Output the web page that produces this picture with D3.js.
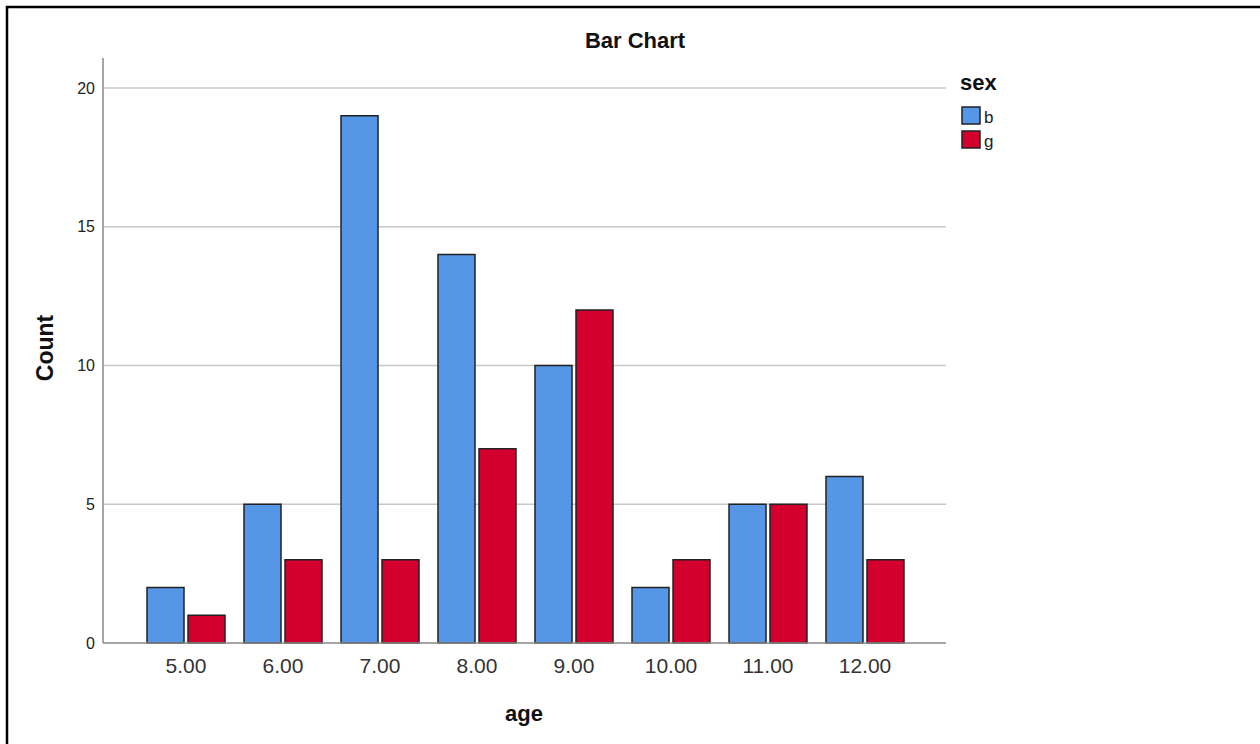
<!DOCTYPE html>
<html>
<head>
<meta charset="utf-8">
<script src="https://cdn.jsdelivr.net/npm/d3@7"></script>
<style>
  html, body { margin: 0; padding: 0; background: #fff; overflow: hidden; }
  svg { display: block; font-family: "Liberation Sans", Arial, sans-serif; }
</style>
</head>
<body>
<svg id="chart" width="1260" height="744"></svg>
<script>
const categories = ["5.00", "6.00", "7.00", "8.00", "9.00", "10.00", "11.00", "12.00"];
const seriesNames = ["b", "g"];
const countB = [2, 5, 19, 14, 10, 2, 5, 6];
const countG = [1, 3, 3, 7, 12, 3, 5, 3];
const yTicks = [0, 5, 10, 15, 20];
const colors = ["#5596e6", "#d3002e"];

const svg = d3.select("#chart");

// outer frame
svg.append("rect")
  .attr("x", 7).attr("y", 7)
  .attr("width", 1300).attr("height", 800)
  .attr("fill", "none").attr("stroke", "#000").attr("stroke-width", 2.5);

const plot = { left: 103, right: 946, top: 58, bottom: 643 };

const x = d3.scaleBand().domain(categories).range([137.5, 913.5]).padding(0);
const y = d3.scaleLinear().domain([0, 20]).range([643, 88]);

// gridlines
svg.append("g").selectAll("line").data(yTicks.filter(d => d > 0)).join("line")
  .attr("x1", plot.left).attr("x2", plot.right)
  .attr("y1", d => y(d)).attr("y2", d => y(d))
  .attr("stroke", "#c8c8c8").attr("stroke-width", 1.5);

// y axis
const yAxis = svg.append("g").attr("transform", `translate(${plot.left},0)`)
  .call(d3.axisLeft(y).tickValues(yTicks).tickSize(0).tickPadding(8));
yAxis.select(".domain").remove();
yAxis.selectAll("text").attr("font-size", 16).attr("fill", "#222")
  .attr("font-family", "Liberation Sans, Arial, sans-serif");
svg.append("line").attr("x1", plot.left).attr("x2", plot.left)
  .attr("y1", plot.top).attr("y2", plot.bottom)
  .attr("stroke", "#888").attr("stroke-width", 1.5);

// bars
const bw = 37;
const series = [countB, countG];
series.forEach((vals, si) => {
  svg.append("g").selectAll("rect").data(categories).join("rect")
    .attr("x", (d, i) => x(d) + x.bandwidth() / 2 + (si === 0 ? -bw - 2 : 2))
    .attr("y", (d, i) => y(vals[i]))
    .attr("width", bw)
    .attr("height", (d, i) => y(0) - y(vals[i]))
    .attr("fill", colors[si])
    .attr("stroke", "#222").attr("stroke-width", 1.5);
});

// x axis
const xAxis = svg.append("g").attr("transform", `translate(0,${plot.bottom})`)
  .call(d3.axisBottom(x).tickSize(0).tickPadding(15));
xAxis.select(".domain").remove();
xAxis.selectAll("text").attr("font-size", 21).attr("fill", "#333")
  .attr("font-family", "Liberation Sans, Arial, sans-serif");
svg.append("line").attr("x1", plot.left).attr("x2", plot.right)
  .attr("y1", plot.bottom).attr("y2", plot.bottom)
  .attr("stroke", "#888").attr("stroke-width", 1.5);

// title
svg.append("text").attr("x", 635).attr("y", 48).attr("text-anchor", "middle")
  .attr("font-size", 22).attr("font-weight", "bold").attr("fill", "#111").text("Bar Chart");

// axis titles
svg.append("text").attr("x", 524).attr("y", 721).attr("text-anchor", "middle")
  .attr("font-size", 22).attr("font-weight", "bold").attr("fill", "#111").text("age");
svg.append("text").attr("transform", "translate(53,348) rotate(-90)")
  .attr("text-anchor", "middle")
  .attr("font-size", 23).attr("font-weight", "bold").attr("fill", "#111").text("Count");

// legend
svg.append("text").attr("x", 960).attr("y", 90)
  .attr("font-size", 22).attr("font-weight", "bold").attr("fill", "#111").text("sex");
const leg = svg.append("g").selectAll("g").data(seriesNames).join("g")
  .attr("transform", (d, i) => `translate(962,${107 + i * 24})`);
leg.append("rect").attr("width", 18).attr("height", 17)
  .attr("fill", (d, i) => colors[i]).attr("stroke", "#222").attr("stroke-width", 1.5);
leg.append("text").attr("x", 22).attr("y", 16).attr("font-size", 17).attr("fill", "#222")
  .text(d => d);
</script>
</body>
</html>
